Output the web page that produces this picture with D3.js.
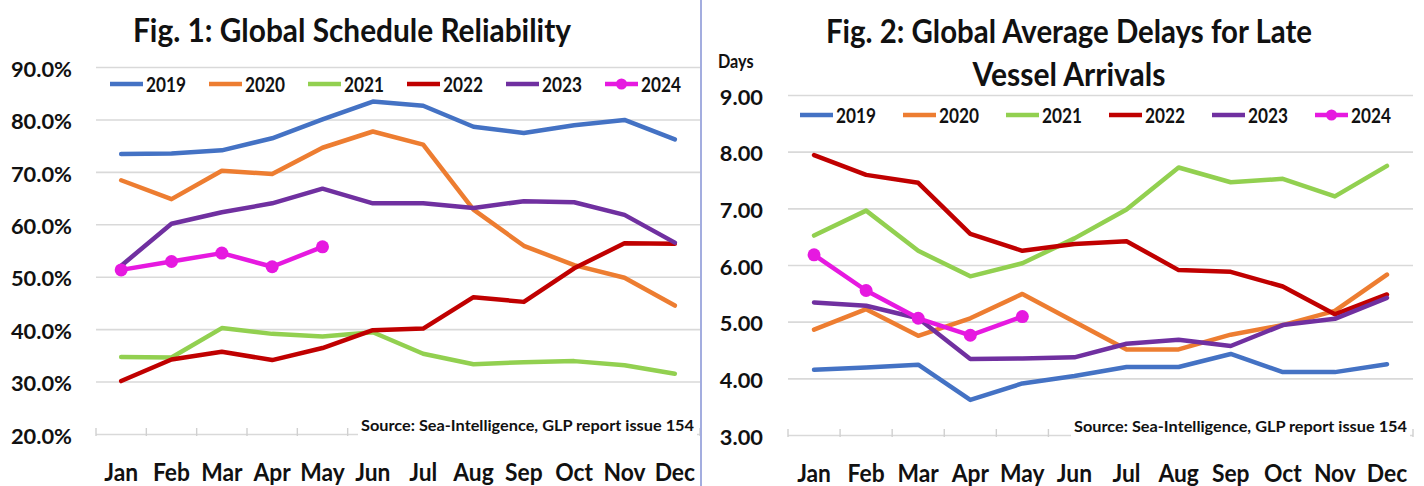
<!DOCTYPE html>
<html>
<head>
<meta charset="utf-8">
<script src="https://cdn.jsdelivr.net/npm/d3@7/dist/d3.min.js"></script>
<style>
  body { margin: 0; background: #fff; }
  text { font-family: Lato, "Noto Sans", sans-serif; font-weight: bold; fill: #111; }
</style>
</head>
<body>
<script>
const months = ['Jan', 'Feb', 'Mar', 'Apr', 'May', 'Jun', 'Jul', 'Aug', 'Sep', 'Oct', 'Nov', 'Dec']
const years = ['2019', '2020', '2021', '2022', '2023', '2024']
const colors = ['#4472c4', '#ed7d31', '#92d050', '#c00000', '#7030a0', '#e619e0']

// Fig. 1 - schedule reliability, percent
const rel2019 = [73.4, 73.5, 74.1, 76.4, 80.0, 83.4, 82.6, 78.6, 77.4, 78.9, 79.9, 76.2]
const rel2020 = [68.4, 64.8, 70.2, 69.6, 74.6, 77.7, 75.2, 62.8, 55.9, 52.2, 49.8, 44.5]
const rel2021 = [34.7, 34.6, 40.2, 39.1, 38.6, 39.4, 35.3, 33.3, 33.7, 33.9, 33.1, 31.5]
const rel2022 = [30.1, 34.2, 35.7, 34.1, 36.4, 39.8, 40.1, 46.1, 45.2, 51.6, 56.4, 56.3]
const rel2023 = [52.1, 60.1, 62.3, 64.0, 66.8, 64.0, 64.0, 63.1, 64.4, 64.2, 61.8, 56.5]
const rel2024 = [51.3, 52.9, 54.5, 51.9, 55.7]
const relTicks = [20, 30, 40, 50, 60, 70, 80, 90]

// Fig. 2 - average delay for late vessels, days
const del2019 = [4.15, 4.19, 4.24, 3.62, 3.91, 4.04, 4.20, 4.20, 4.43, 4.11, 4.11, 4.25]
const del2020 = [4.86, 5.22, 4.75, 5.06, 5.49, 5.00, 4.51, 4.51, 4.77, 4.94, 5.19, 5.83]
const del2021 = [6.52, 6.96, 6.25, 5.80, 6.03, 6.47, 6.98, 7.72, 7.46, 7.52, 7.21, 7.75]
const del2022 = [7.94, 7.59, 7.45, 6.55, 6.25, 6.37, 6.42, 5.91, 5.88, 5.62, 5.13, 5.48]
const del2023 = [5.34, 5.28, 5.06, 4.34, 4.35, 4.37, 4.61, 4.68, 4.57, 4.94, 5.05, 5.42]
const del2024 = [6.18, 5.55, 5.06, 4.76, 5.09]
const delTicks = [3, 4, 5, 6, 7, 8, 9]

const svg = d3.select('body').append('svg')
  .attr('width', 1424).attr('height', 486)

svg.append('rect').attr('width', 1424).attr('height', 486).attr('fill', '#fff')

// squeeze Lato a bit so it sits closer to the narrow original face
const squeeze = (sel, k) => sel.each(function () {
  const w = this.getComputedTextLength()
  d3.select(this).attr('textLength', w * k).attr('lengthAdjust', 'spacingAndGlyphs')
})

const drawChart = (cfg) => {
  const g = svg.append('g')
  const x = d3.scalePoint().domain(months).range([cfg.x0, cfg.x1]).padding(0.5)
  const y = d3.scaleLinear().domain(cfg.domain).range([cfg.yBot, cfg.yTop])

  // grid + y labels
  const yAxis = g.append('g')
    .attr('transform', `translate(${cfg.x0},0)`)
    .call(d3.axisLeft(y).tickValues(cfg.ticks).tickFormat(cfg.fmt)
      .tickSize(-(cfg.x1 - cfg.x0)).tickPadding(cfg.labelPad))
  yAxis.select('.domain').remove()
  yAxis.selectAll('line').attr('stroke', '#d9d9d9').attr('stroke-width', 1.6)
  yAxis.selectAll('text').attr('font-size', 21).attr('dy', '0.44em')
    .style('font-family', 'Lato, sans-serif').attr('fill', '#111')
  squeeze(yAxis.selectAll('text'), 1.04)

  // band ticks on the bottom line
  const step = x.step()
  g.selectAll('.btick').data(d3.range(months.length + 1)).join('line')
    .attr('x1', i => cfg.x0 + i * step).attr('x2', i => cfg.x0 + i * step)
    .attr('y1', cfg.yBot - 6).attr('y2', cfg.yBot + 2)
    .attr('stroke', '#d0d0d0').attr('stroke-width', 1.4)

  // month labels
  g.selectAll('.mlab').data(months).join('text')
    .attr('x', d => x(d)).attr('y', cfg.yBot + 47)
    .attr('text-anchor', 'middle').attr('font-size', 24)
    .text(d => d)
    .call(squeeze, 0.95)

  // source note with white box
  const src = g.append('text')
    .attr('x', cfg.x1 - 6).attr('y', cfg.yBot - 3)
    .attr('text-anchor', 'end').attr('font-size', 15.5).attr('fill', '#222')
    .text('Source: Sea-Intelligence, GLP report issue 154')
  src.attr('textLength', 333).attr('lengthAdjust', 'spacingAndGlyphs')
  const bb = src.node().getBBox()
  g.insert('rect', () => src.node())
    .attr('x', bb.x - 3).attr('y', bb.y - 2).attr('width', bb.width + 6).attr('height', bb.height + 6)
    .attr('fill', '#fff')

  // series
  const line = d3.line().x((d, i) => x(months[i])).y(d => y(d))
  cfg.series.forEach((vals, k) => {
    g.append('path').datum(vals)
      .attr('d', line).attr('fill', 'none')
      .attr('stroke', colors[k]).attr('stroke-width', 4.5)
      .attr('stroke-linejoin', 'round').attr('stroke-linecap', 'round')
    if (k === 5) {
      g.selectAll('.dot').data(vals).join('circle')
        .attr('cx', (d, i) => x(months[i])).attr('cy', d => y(d))
        .attr('r', 6.5).attr('fill', colors[k])
    }
  })

  // legend
  const lg = g.append('g')
  years.forEach((yr, k) => {
    const lx = cfg.legX + k * cfg.legStep
    lg.append('line')
      .attr('x1', lx).attr('x2', lx + 33).attr('y1', cfg.legY).attr('y2', cfg.legY)
      .attr('stroke', colors[k]).attr('stroke-width', 4.5)
    if (k === 5) {
      lg.append('circle').attr('cx', lx + 16.5).attr('cy', cfg.legY).attr('r', 5.5).attr('fill', colors[k])
    }
    lg.append('text').attr('x', lx + 36).attr('y', cfg.legY + 8)
      .attr('font-size', 20).text(yr)
      .call(squeeze, 0.86)
  })

  // titles
  cfg.title.forEach((t, i) => {
    g.append('text').attr('x', cfg.titleX).attr('y', cfg.titleY + i * 43)
      .attr('text-anchor', 'middle').attr('font-size', 32).text(t)
      .attr('textLength', cfg.titleW[i]).attr('lengthAdjust', 'spacingAndGlyphs')
  })
}

drawChart({
  x0: 96, x1: 700, yTop: 67, yBot: 434,
  domain: [20, 90], ticks: relTicks, fmt: d => d.toFixed(1) + '%', labelPad: 24,
  series: [rel2019, rel2020, rel2021, rel2022, rel2023, rel2024],
  legX: 110, legStep: 99, legY: 84,
  title: ['Fig. 1: Global Schedule Reliability'], titleX: 352, titleY: 42, titleW: [438]
})

drawChart({
  x0: 788, x1: 1413, yTop: 95, yBot: 435,
  domain: [3, 9], ticks: delTicks, fmt: d => d.toFixed(2), labelPad: 25,
  series: [del2019, del2020, del2021, del2022, del2023, del2024],
  legX: 800, legStep: 103, legY: 115,
  title: ['Fig. 2: Global Average Delays for Late', 'Vessel Arrivals'], titleX: 1069, titleY: 43, titleW: [486, 193]
})

svg.append('text').attr('x', 718).attr('y', 68).attr('font-size', 18).text('Days')
  .call(squeeze, 0.9)

// divider between the two figures
svg.append('line').attr('x1', 701).attr('x2', 701).attr('y1', 0).attr('y2', 486)
  .attr('stroke', '#a3addf').attr('stroke-width', 2)
</script>
</body>
</html>
